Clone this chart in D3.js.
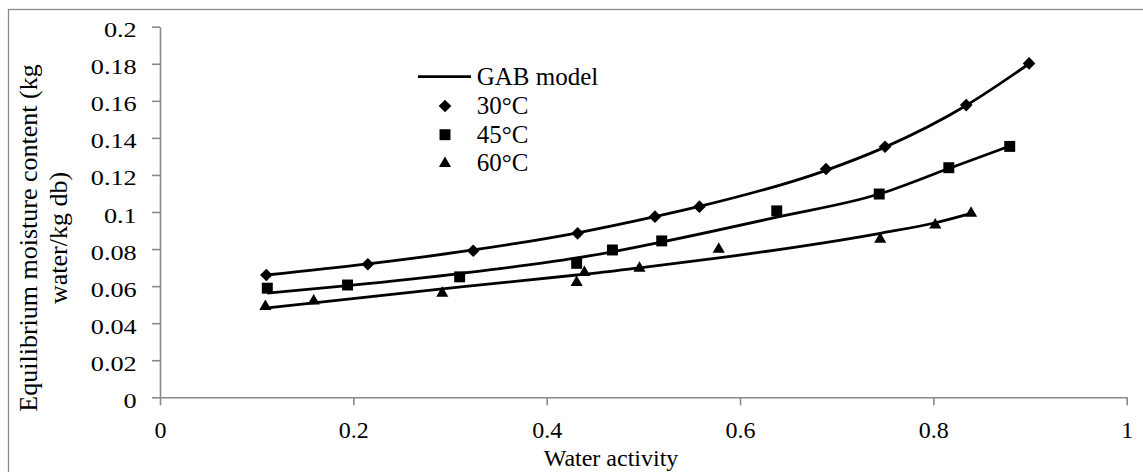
<!DOCTYPE html>
<html>
<head>
<meta charset="utf-8">
<script src="https://cdn.jsdelivr.net/npm/d3@7"></script>
<style>
  html, body { margin: 0; padding: 0; background: #fff; }
  svg { display: block; }
  svg text { font-family: "Liberation Serif", "Times New Roman", serif; }
</style>
</head>
<body>
<svg id="chart"></svg>
<script>
// water activity (x) and equilibrium moisture content (y)
const aw30 = [0.110, 0.215, 0.324, 0.432, 0.512, 0.558, 0.689, 0.750, 0.834, 0.899];
const emc30 = [0.0660, 0.0718, 0.0791, 0.0885, 0.0975, 0.1029, 0.1232, 0.1352, 0.1577, 0.1802];
const gab30 = [0.0660, 0.0720, 0.0795, 0.0888, 0.0975, 0.1030, 0.1225, 0.1350, 0.1575, 0.1800];

const aw45 = [0.111, 0.194, 0.310, 0.431, 0.468, 0.519, 0.638, 0.744, 0.816, 0.879];
const emc45 = [0.0589, 0.0606, 0.0650, 0.0723, 0.0795, 0.0844, 0.1006, 0.1097, 0.1239, 0.1354];
const gab45 = [0.0562, 0.0603, 0.0668, 0.0752, 0.0785, 0.0838, 0.0972, 0.1097, 0.1235, 0.1356];

const aw60 = [0.109, 0.159, 0.292, 0.431, 0.439, 0.496, 0.578, 0.745, 0.802, 0.839];
const emc60 = [0.0490, 0.0520, 0.0562, 0.0619, 0.0673, 0.0696, 0.0799, 0.0853, 0.0930, 0.0993];
const gab60 = [0.0481, 0.0510, 0.0585, 0.0660, 0.0664, 0.0698, 0.0752, 0.0885, 0.0942, 0.0993];

const xTicks = [0, 0.2, 0.4, 0.6, 0.8, 1];
const yTicks = [0, 0.02, 0.04, 0.06, 0.08, 0.1, 0.12, 0.14, 0.16, 0.18, 0.2];

const seriesNames = ["30°C", "45°C", "60°C"];
const seriesShapes = ["diamond", "square", "triangle"];

const width = 1143;
const height = 472;
const axisColor = "#898989";
const serif = "'Liberation Serif', 'Times New Roman', serif";

const svg = d3.select("#chart")
    .attr("width", width)
    .attr("height", height);

// outer chart frame (runs off the right and bottom edges)
svg.append("rect")
    .attr("x", 8.5)
    .attr("y", 9.5)
    .attr("width", 1200)
    .attr("height", 500)
    .attr("fill", "none")
    .attr("stroke", axisColor)
    .attr("stroke-width", 1.3);

const x = d3.scaleLinear().domain([0, 1]).range([160, 1126.7]);
const y = d3.scaleLinear().domain([0, 0.2]).range([397.3, 26.7]);

// axes
const xAxis = svg.append("g")
    .attr("transform", `translate(0,${y(0)})`)
    .call(d3.axisBottom(x).tickValues(xTicks).tickSize(8).tickSizeOuter(0).tickFormat(d3.format("")));

const yAxis = svg.append("g")
    .attr("transform", `translate(${x(0)},0)`)
    .call(d3.axisLeft(y).tickValues(yTicks).tickSize(8).tickSizeOuter(0).tickFormat(d3.format("")));

[xAxis, yAxis].forEach(g => {
    g.attr("font-family", serif);
    g.select(".domain").attr("stroke", axisColor).attr("stroke-width", 1.6);
    g.selectAll(".tick line").attr("stroke", axisColor).attr("stroke-width", 1.6);
    g.selectAll(".tick text").attr("fill", "#000");
});

xAxis.selectAll(".tick text")
    .attr("y", 41)
    .attr("dy", null)
    .style("font-size", "24px");

const yStretch = 1.25;
yAxis.selectAll(".tick text")
    .attr("x", -23.3 / yStretch)
    .attr("y", 10)
    .attr("dy", null)
    .attr("transform", `scale(${yStretch},1)`)
    .style("font-size", "21px");

// axis titles
svg.append("text")
    .attr("x", 611)
    .attr("y", 466)
    .attr("text-anchor", "middle")
    .style("font-size", "24px")
    .text("Water activity");

const yTitle = svg.append("text")
    .attr("transform", "translate(37,238) rotate(-90)")
    .attr("text-anchor", "middle")
    .style("font-size", "26px");
yTitle.append("tspan").attr("x", 0).attr("y", 0).text("Equilibrium moisture content (kg");
yTitle.append("tspan").attr("x", 0).attr("y", 30).text("water/kg db)");

// markers
const markerPath = {
    diamond: d3.symbol(d3.symbolSquare, 80)(),
    square: d3.symbol(d3.symbolSquare, 120)(),
    triangle: d3.symbol(d3.symbolTriangle, 64)()
};
const markerRotate = { diamond: 45, square: 0, triangle: 0 };

const series = [
    { aw: aw30, emc: emc30, gab: gab30 },
    { aw: aw45, emc: emc45, gab: gab45 },
    { aw: aw60, emc: emc60, gab: gab60 }
];

const line = d3.line()
    .x(d => x(d[0]))
    .y(d => y(d[1]))
    .curve(d3.curveMonotoneX);

series.forEach(s => {
    svg.append("path")
        .datum(s.aw.map((a, j) => [a, s.gab[j]]))
        .attr("d", line)
        .attr("fill", "none")
        .attr("stroke", "#000")
        .attr("stroke-width", 2.8);
});

series.forEach((s, i) => {
    const shape = seriesShapes[i];
    svg.append("g")
        .selectAll("path")
        .data(s.aw.map((a, j) => [a, s.emc[j]]))
        .enter()
        .append("path")
        .attr("d", markerPath[shape])
        .attr("transform", d => `translate(${x(d[0])},${y(d[1])}) rotate(${markerRotate[shape]})`)
        .attr("fill", "#000");
});

// legend
const legend = svg.append("g");

legend.append("line")
    .attr("x1", 418)
    .attr("x2", 471)
    .attr("y1", 76.7)
    .attr("y2", 76.7)
    .attr("stroke", "#000")
    .attr("stroke-width", 2.8);

legend.append("text")
    .attr("x", 476.7)
    .attr("y", 84.5)
    .style("font-size", "25px")
    .text("GAB model");

seriesNames.forEach((name, i) => {
    const cy = 106 + i * 28.7;
    legend.append("path")
        .attr("d", markerPath[seriesShapes[i]])
        .attr("transform", `translate(445,${cy}) rotate(${markerRotate[seriesShapes[i]]})`)
        .attr("fill", "#000");
    legend.append("text")
        .attr("x", 476.7)
        .attr("y", cy + 7.8)
        .style("font-size", "25px")
        .text(name);
});
</script>
</body>
</html>
